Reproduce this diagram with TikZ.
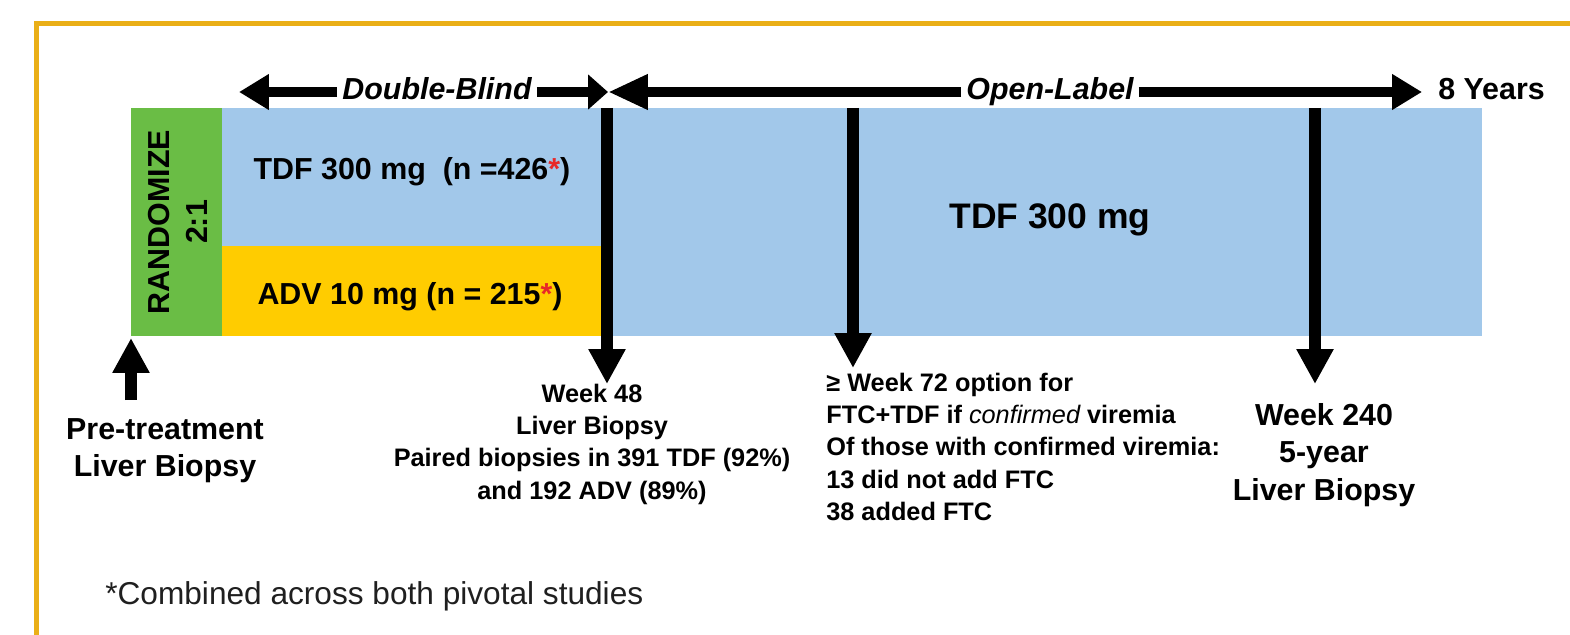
\documentclass[tikz,border=0pt]{standalone}
\usepackage{fontspec}
\setmainfont{Liberation Sans}
\usetikzlibrary{arrows.meta}
\usetikzlibrary{positioning}
\definecolor{randgreen}{RGB}{106,189,69}
\definecolor{tdfblue}{RGB}{162,200,234}
\definecolor{advyellow}{RGB}{255,204,0}
\definecolor{frameorange}{RGB}{234,175,23}
\definecolor{starred}{RGB}{232,40,40}
\newcommand{\lblsz}{\fontsize{17.3}{21.3}\selectfont\bfseries}
\newcommand{\notesz}{\fontsize{14.4}{18.3}\selectfont\bfseries}
\newcommand{\armsz}{\fontsize{20.2}{24}\selectfont\bfseries}
\newcommand{\redstar}{{\color{starred}*}}

\begin{document}
\begin{tikzpicture}[line join=miter,>={Triangle[length=0.6cm,width=0.68cm]},x=0.02cm,y=-0.02cm,
  shaft/.style={line width=0.2cm},
  drop/.style={line width=0.24cm,-{Triangle[length=0.7cm,width=0.7cm]}},
  phase/.style={font=\lblsz\itshape,inner xsep=2.8pt,inner ysep=0pt,text height=12pt,text depth=3pt},
  lbl/.style={font=\lblsz,inner sep=0pt,align=center},
  note/.style={font=\notesz,inner sep=0pt}]
\useasboundingbox (0,0) rectangle (1570,635);
\clip (0,0) rectangle (1570,635);
\draw[frameorange,line width=0.1cm] (36.5,700) -- (36.5,23.5) -- (1650,23.5);
\fill[tdfblue] (222,108) rectangle (1482,336);
\fill[advyellow] (222,246) rectangle (601,336);
\fill[randgreen] (131,108) rectangle (222,336);
\node[lbl,rotate=90] (rand) at (178,222) {RANDOMIZE\\2:1};
\node[lbl,anchor=base] (tdf) at (412,179) {TDF 300 mg\ \ (n =426\redstar)};
\node[lbl,anchor=base] (adv) at (410,304) {ADV 10 mg (n = 215\redstar)};
\node[lbl,font=\armsz,anchor=base] (open) at (1050,229) {TDF 300 mg};
\node[phase] (db) at (437,92) {Double-Blind};
\node[phase] (ol) at (1050,92) {Open-Label};
\node[phase,font=\lblsz,anchor=west] (yrs) at (1433,92) {8 Years};
\coordinate (dbstart) at (239,92);
\coordinate (split) at (608,92);
\draw[shaft,->] (db) -- (dbstart);
\draw[shaft,-{Triangle[length=0.4cm,width=0.68cm]}] (db) -- (split);
\draw[shaft,-{Triangle[length=0.8cm,width=0.66cm]}] (ol) -- (split);
\draw[shaft,->,shorten >=0.22cm] (ol) -- (yrs);
\coordinate (t48) at (607,108);
\coordinate (t72) at (853,108);
\coordinate (t240) at (1315,108);
\coordinate (gcorner) at (131,338);
\node[note,align=center,anchor=north] (w48) at (592,384) {Week 48\\Liver Biopsy\\Paired biopsies in 391 TDF (92\%)\\and 192 ADV (89\%)};
\node[note,align=left,anchor=north west] (w72) at (826,373) {≥ Week 72 option for\\FTC+TDF if {\mdseries\itshape confirmed} viremia\\Of those with confirmed viremia:\\13 did not add FTC\\38 added FTC};
\node[lbl,anchor=north] (w240) at (1324,403) {Week 240\\5-year\\Liver Biopsy};
\node[lbl,anchor=north] (pre) at (165,418) {Pre-treatment\\Liver Biopsy};
\draw[drop] (t48) -- (t48 |- w48.north);
\draw[drop,shorten >=0.1cm] (t72) -- (t72 |- w72.north);
\draw[drop,shorten >=0.38cm] (t240) -- (t240 |- w240.north);
\draw[drop,shorten <=0.36cm] (pre.north -| gcorner) -- (gcorner);
\node[font=\fontsize{18}{22}\selectfont,text=black!88,anchor=base west,inner sep=0pt] (fn) at (105,604) {*Combined across both pivotal studies};
\end{tikzpicture}
\end{document}
